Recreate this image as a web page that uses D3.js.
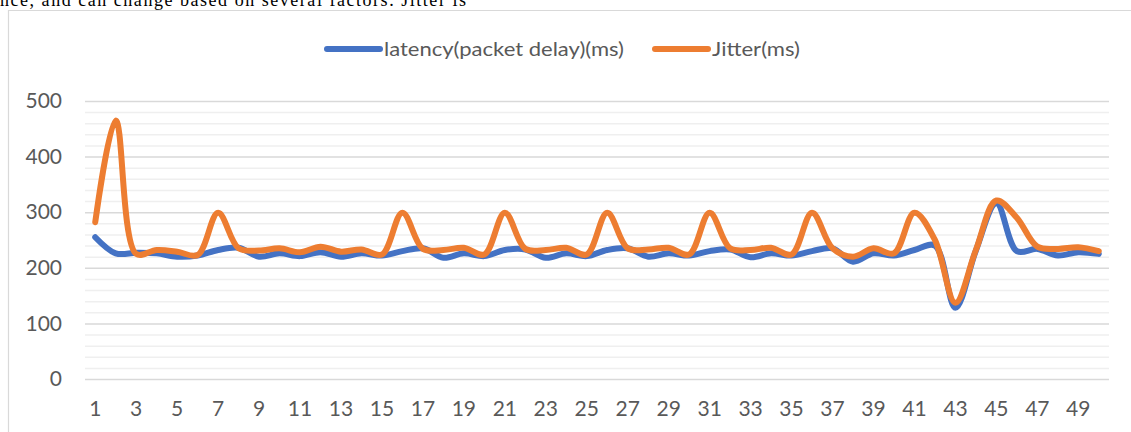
<!DOCTYPE html>
<html><head><meta charset="utf-8">
<script src="https://cdn.jsdelivr.net/npm/d3@7"></script>
<style>
html,body{margin:0;padding:0;background:#fff;}
svg{display:block;}
</style></head>
<body>
<svg id="chart" width="1131" height="432"></svg>
<script>
const categories = [1,2,3,4,5,6,7,8,9,10,11,12,13,14,15,16,17,18,19,20,21,22,23,24,25,26,27,28,29,30,31,32,33,34,35,36,37,38,39,40,41,42,43,44,45,46,47,48,49,50];
const latency = [255,226,227,226,220,222,232,236,220,226,221,228,220,226,222,230,235,218,226,221,232,233,218,226,221,232,235,220,226,222,230,233,219,226,222,230,235,211,226,222,232,240,128,231,316,230,234,222,228,225];
const jitter = [282,465,225,232,229,223,299,235,231,235,228,238,229,233,224,299,234,232,236,224,299,234,232,236,224,299,235,233,236,224,299,235,232,236,224,299,235,220,235,226,299,250,137,232,321,290,238,234,237,230];
const yTicks = [0,100,200,300,400,500];
const xTickLabels = [1,3,5,7,9,11,13,15,17,19,21,23,25,27,29,31,33,35,37,39,41,43,45,47,49];
const seriesNames = ["latency(packet delay)(ms)", "Jitter(ms)"];
const seriesColors = ["#4472C4", "#ED7D31"];
const topText = "nce, and can change based on several factors. Jitter is";

const svg = d3.select("#chart");
const pLeft = 85, pRight = 1109, pTop = 101, pBottom = 379;
const labelFont = "Lato, Open Sans, sans-serif";

svg.append("text").attr("x", 0).attr("y", 6)
  .attr("font-family", "Liberation Serif, Times New Roman, serif")
  .attr("font-size", 18).attr("fill", "#000")
  .attr("textLength", 466).attr("lengthAdjust", "spacing")
  .text(topText);

svg.append("path").attr("d", `M8.5,432 V10.5 H1131`)
  .attr("fill", "none").attr("stroke", "#d9d9d9").attr("stroke-width", 1.2);

const x = d3.scaleBand().domain(categories).range([pLeft, pRight]).padding(0);
const cx = d => x(d) + x.bandwidth() / 2;
const y = d3.scaleLinear().domain([0, 500]).range([pBottom, pTop]);

const minorTicks = d3.range(0, 501, 20).filter(v => v % 100 !== 0);
svg.append("g").attr("transform", `translate(${pLeft},0)`)
  .call(d3.axisLeft(y).tickValues(minorTicks).tickSize(-(pRight - pLeft)).tickFormat(""))
  .call(g => g.select(".domain").remove())
  .call(g => g.selectAll("line").attr("stroke", "#efefef").attr("stroke-width", 1.5));

svg.append("g").attr("transform", `translate(${pLeft},0)`)
  .call(d3.axisLeft(y).tickValues(yTicks).tickSize(-(pRight - pLeft)).tickFormat(""))
  .call(g => g.select(".domain").remove())
  .call(g => g.selectAll("line").attr("stroke", "#d9d9d9").attr("stroke-width", 1.5));

svg.append("g").attr("transform", `translate(62,0)`)
  .call(d3.axisLeft(y).tickValues(yTicks).tickSize(0).tickPadding(0))
  .call(g => g.select(".domain").remove())
  .call(g => g.selectAll("text").attr("font-family", labelFont)
     .attr("font-size", 21).attr("fill", "#595959"));

const xLabelAxis = d3.axisBottom(x).tickValues(xTickLabels).tickSize(0).tickPadding(0);
svg.append("g").attr("transform", `translate(0,416)`)
  .call(xLabelAxis)
  .call(g => g.select(".domain").remove())
  .call(g => g.selectAll("text").attr("font-family", labelFont)
     .attr("font-size", 21).attr("fill", "#595959").attr("y", 0).attr("dy", 0));

const line = d3.line().x((d, i) => cx(categories[i])).y(d => y(d)).curve(d3.curveCatmullRom.alpha(0.5));
[latency, jitter].forEach((s, k) => {
  svg.append("path").datum(s).attr("d", line)
    .attr("fill", "none").attr("stroke", seriesColors[k]).attr("stroke-width", 6)
    .attr("stroke-linecap", "round").attr("stroke-linejoin", "round");
});

const legendX = [327, 655];
const legendTextW = [240, 88];
seriesNames.forEach((name, k) => {
  const g = svg.append("g").attr("transform", `translate(${legendX[k]},49)`);
  g.append("line").attr("x1", 0).attr("x2", 53).attr("y1", 0).attr("y2", 0)
    .attr("stroke", seriesColors[k]).attr("stroke-width", 6).attr("stroke-linecap", "round");
  g.append("text").attr("x", 57).attr("y", 7)
    .attr("font-family", labelFont).attr("font-size", 20).attr("fill", "#595959")
    .attr("textLength", legendTextW[k]).attr("lengthAdjust", "spacingAndGlyphs")
    .text(name);
});
</script>
</body></html>
